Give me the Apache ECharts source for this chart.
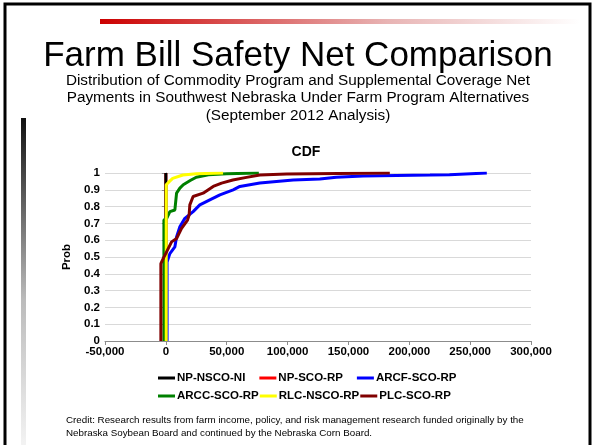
<!DOCTYPE html>
<html>
<head>
<meta charset="utf-8">
<script src="https://cdn.jsdelivr.net/npm/echarts@6/dist/echarts.min.js"></script>
<style>
  html, body { margin: 0; padding: 0; background: #fff; }
  #main { width: 594px; height: 445px; }
</style>
</head>
<body>
<div id="main"></div>
<script>
// tick labels / axis setup
var xMin = -50000, xMax = 300000, xStep = 50000;
var yMin = 0, yMax = 1, yStep = 0.1;

// series names (legend order)
var seriesNames = ['NP-NSCO-NI', 'NP-SCO-RP', 'ARCF-SCO-RP', 'ARCC-SCO-RP', 'RLC-NSCO-RP', 'PLC-SCO-RP'];
var seriesColors = ['#000000', '#ff0000', '#0000ff', '#008000', '#ffff00', '#800000'];

// CDF points [payment, prob]
var npNscoNi = [[0, 0], [0, 1]];
var npScoRp = [[0, 0], [0, 1]];
var arcfScoRp = [[1000, 0], [1000, 0.47], [3300, 0.52], [7400, 0.56], [8800, 0.62], [11500, 0.68],
  [15600, 0.73], [22400, 0.77], [27900, 0.81], [36100, 0.84], [44400, 0.87], [55300, 0.90],
  [60800, 0.92], [77200, 0.94], [104600, 0.958], [126500, 0.964], [140000, 0.975],
  [162000, 0.982], [217000, 0.988], [233000, 0.99], [263700, 1.0]];
var arccScoRp = [[-1600, 0], [-1600, 0.72], [700, 0.73], [3300, 0.77], [7400, 0.78], [8800, 0.88],
  [11500, 0.91], [14300, 0.93], [20000, 0.955], [25000, 0.975], [35000, 0.99], [50000, 0.995],
  [76400, 1.0]];
var rlcNscoRp = [[300, 0], [300, 0.93], [1500, 0.935], [3000, 0.95], [5600, 0.968], [14000, 0.988],
  [25000, 0.995], [47000, 1.0]];
var plcScoRp = [[-4100, 0], [-4100, 0.46], [-2200, 0.49], [4700, 0.59], [8800, 0.61], [12900, 0.67],
  [17800, 0.72], [19100, 0.75], [19700, 0.81], [22400, 0.86], [30600, 0.88], [38900, 0.92],
  [45800, 0.94], [55000, 0.958], [66300, 0.974], [77200, 0.988], [99200, 0.994], [184000, 1.0]];

var seriesData = [npNscoNi, npScoRp, arcfScoRp, arccScoRp, rlcNscoRp, plcScoRp];
var seriesZ = [3, 2, 4, 5, 6, 7];

var chart = echarts.init(document.getElementById('main'));

var font = '"Liberation Sans", Arial, sans-serif';

var series = seriesNames.map(function (name, i) {
  return {
    name: name,
    type: 'line',
    data: seriesData[i],
    showSymbol: false,
    z: seriesZ[i],
    animation: false,
    lineStyle: { color: seriesColors[i], width: 3 },
    itemStyle: { color: seriesColors[i] }
  };
});

var legendText = { color: '#000', fontWeight: 'bold', fontSize: 11.5, fontFamily: font, padding: [0, 0, 0, -3] };

var option = {
  backgroundColor: '#ffffff',
  animation: false,
  textStyle: { fontFamily: font },
  title: [
    {
      text: 'Farm Bill Safety Net Comparison',
      left: 293, top: 34, textAlign: 'center',
      textStyle: { fontFamily: font, fontSize: 35, fontWeight: 'normal', color: '#000' }
    },
    {
      text: 'Distribution of Commodity Program and Supplemental Coverage Net\nPayments in Southwest Nebraska Under Farm Program Alternatives\n(September 2012 Analysis)',
      left: 293, top: 67, textAlign: 'center',
      textStyle: { fontFamily: font, fontSize: 15.3, fontWeight: 'normal', color: '#000', lineHeight: 17.5, align: 'center' }
    },
    {
      text: 'CDF',
      left: 301, top: 140, textAlign: 'center',
      textStyle: { fontFamily: font, fontSize: 14, fontWeight: 'bold', color: '#000' }
    }
  ],
  grid: { left: 105, right: 63, top: 173, bottom: 104 },
  xAxis: {
    type: 'value',
    min: xMin, max: xMax, interval: xStep,
    axisLine: { lineStyle: { color: '#8c8c8c', width: 1 } },
    axisTick: { show: true, inside: false, length: 4, lineStyle: { color: '#8c8c8c' } },
    splitLine: { show: false },
    axisLabel: {
      color: '#000', fontWeight: 'bold', fontSize: 11.5, fontFamily: font, margin: 5,
      formatter: function (v) { return v.toLocaleString('en-US'); }
    }
  },
  yAxis: {
    type: 'value',
    name: 'Prob',
    nameLocation: 'middle',
    nameGap: 30,
    nameRotate: 90,
    nameTextStyle: { color: '#000', fontWeight: 'bold', fontSize: 11.5, fontFamily: font },
    min: yMin, max: yMax, interval: yStep,
    axisLine: { show: true, lineStyle: { color: '#8c8c8c', width: 1 } },
    axisTick: { show: true, inside: false, length: 4, lineStyle: { color: '#8c8c8c' } },
    splitLine: { show: true, lineStyle: { color: '#d9d9d9', width: 1 } },
    axisLabel: {
      color: '#000', fontWeight: 'bold', fontSize: 11.5, fontFamily: font, margin: 5,
      formatter: function (v) { return String(+v.toFixed(1)); }
    }
  },
  legend: [
    {
      data: seriesNames.slice(0, 3),
      left: 153, top: 367, itemGap: 14,
      icon: 'rect', itemWidth: 17, itemHeight: 3,
      textStyle: legendText
    },
    {
      data: seriesNames.slice(3),
      left: 153, top: 385, itemGap: 1,
      icon: 'rect', itemWidth: 17, itemHeight: 3,
      textStyle: legendText
    }
  ],
  graphic: [
    // slide frame
    { type: 'rect', shape: { x: 5, y: 4, width: 585, height: 460 }, style: { fill: null, stroke: '#000', lineWidth: 3 }, silent: true },
    // red header bar
    {
      type: 'rect', shape: { x: 100, y: 19, width: 480, height: 5 }, silent: true,
      style: {
        fill: new echarts.graphic.LinearGradient(0, 0, 1, 0, [
          { offset: 0, color: '#cc0000' }, { offset: 0.6, color: '#e8b4b4' }, { offset: 1, color: '#ffffff' }
        ])
      }
    },
    // left gray bar
    {
      type: 'rect', shape: { x: 21, y: 118, width: 5, height: 330 }, silent: true,
      style: {
        fill: new echarts.graphic.LinearGradient(0, 0, 0, 1, [
          { offset: 0, color: '#111111' }, { offset: 0.55, color: '#bbbbbb' }, { offset: 1, color: '#f4f4f4' }
        ])
      }
    },
    {
      type: 'text', left: 66, top: 414, silent: true,
      style: {
        text: 'Credit: Research results from farm income, policy, and risk management research funded originally by the\nNebraska Soybean Board and continued by the Nebraska Corn Board.',
        font: '9.8px "Liberation Sans", Arial, sans-serif', fill: '#000', lineHeight: 13
      }
    }
  ],
  series: series
};

chart.setOption(option);
</script>
</body>
</html>
